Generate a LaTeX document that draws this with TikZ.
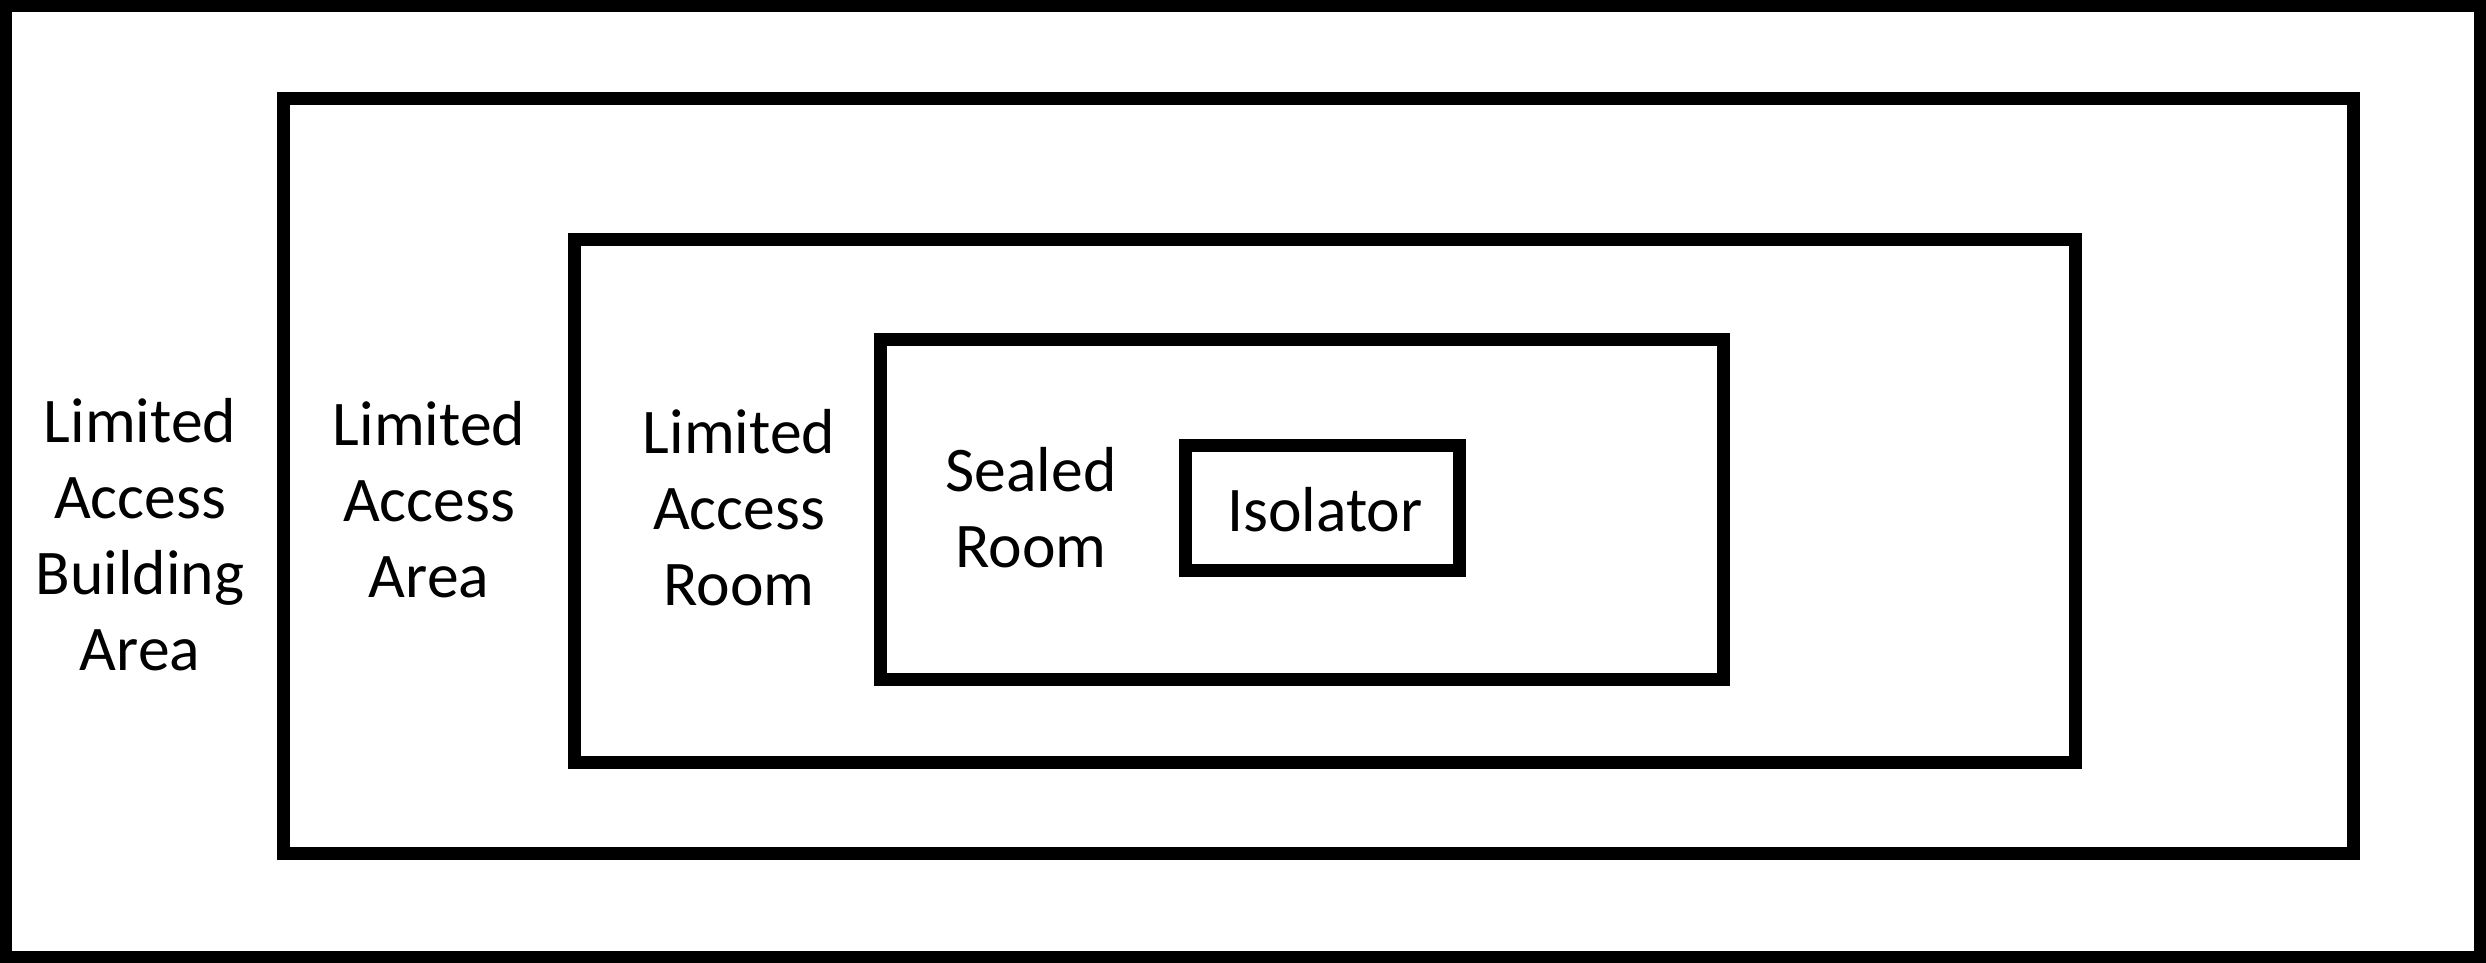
\documentclass[tikz,border=0pt]{standalone}
\usepackage{fontspec}
\setmainfont{Carlito}
\begin{document}
\begin{tikzpicture}[x=0.5pt,y=-0.5pt,
  wall/.style={draw=black,line width=6.5pt,line join=miter},
  lbl/.style={font=\fontsize{31.8pt}{38pt}\selectfont,align=center,anchor=base,inner sep=0pt}]
\useasboundingbox (0,0) rectangle (2486,963);
% nested zones
\draw[wall,line width=6pt] (6,6) rectangle (2480,957);
\draw[wall] (283.5,98.5) rectangle (2353.5,853.5);
\draw[wall] (574.5,239.5) rectangle (2075,762.5);
\draw[wall] (880.5,339.5) rectangle (1723.5,679);
\draw[wall] (1185.5,445) rectangle (1459.5,570.5);
% labels (base anchor = baseline of the last line)
\node[lbl] (labb) at (140,670) {Limited\\Access\\Building\\Area};
\node[lbl] (laba) at (429,597) {Limited\\Access\\Area};
\node[lbl] (labr) at (739,605) {Limited\\Access\\Room};
\node[lbl] (labs) at (1031,567) {Sealed\\Room};
\node[lbl] (labi) at (1325,531) {Isolator};
\end{tikzpicture}
\end{document}
